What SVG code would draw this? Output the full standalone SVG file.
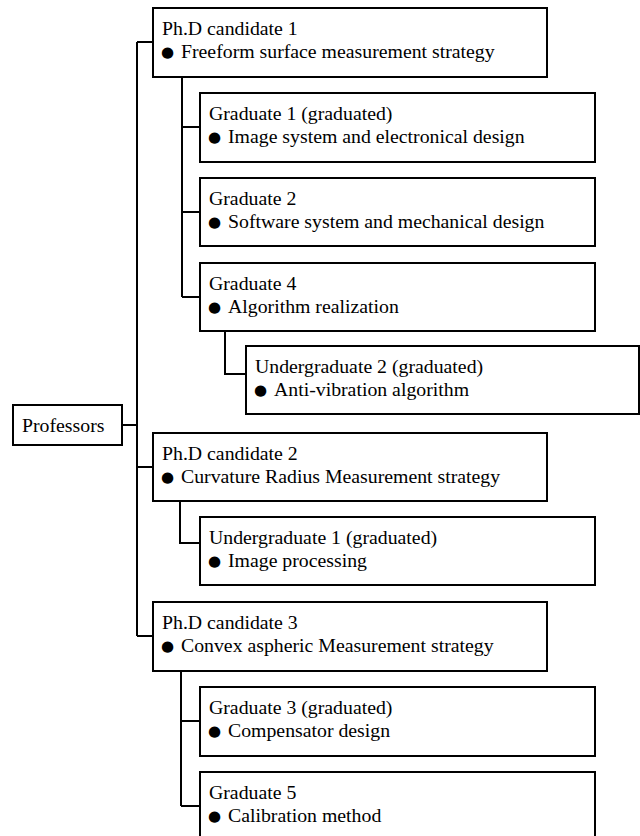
<svg xmlns="http://www.w3.org/2000/svg" width="640" height="836" viewBox="0 0 640 836">
<style>
.box{fill:#fff;stroke:#000;stroke-width:2}
.con{fill:none;stroke:#000;stroke-width:2}
text{font-family:"Liberation Serif","Times New Roman",serif;font-size:19.8px;fill:#000}
.b{font-family:"DejaVu Sans",sans-serif;font-size:15px}
</style>
<rect width="640" height="836" fill="#fff"/>
<g id="connectors">
<path class="con" d="M122 425H137M137 42V636M137 42H153M137 467H153M137 636H153"/>
<path class="con" d="M182 77V297M182 127H200M182 212H200M182 297H200"/>
<path class="con" d="M225 331V374H246"/>
<path class="con" d="M180 501V543H200"/>
<path class="con" d="M181 671V806M181 721H200M181 806H200"/>
</g>
<g id="phd1"><rect class="box" x="153" y="8" width="394" height="69"/>
<text x="162" y="35">Ph.D candidate 1</text>
<text y="58"><tspan class="b" x="161" y="57">●</tspan><tspan x="181" y="58">Freeform surface measurement strategy</tspan></text></g>
<g id="grad1"><rect class="box" x="200" y="93" width="395" height="69"/>
<text x="209" y="120">Graduate 1 (graduated)</text>
<text><tspan class="b" x="208" y="142">●</tspan><tspan x="228" y="143">Image system and electronical design</tspan></text></g>
<g id="grad2"><rect class="box" x="200" y="178" width="395" height="68"/>
<text x="209" y="205">Graduate 2</text>
<text><tspan class="b" x="208" y="227">●</tspan><tspan x="228" y="228">Software system and mechanical design</tspan></text></g>
<g id="grad4"><rect class="box" x="200" y="263" width="395" height="68"/>
<text x="209" y="290">Graduate 4</text>
<text><tspan class="b" x="208" y="312">●</tspan><tspan x="228" y="313">Algorithm realization</tspan></text></g>
<g id="ugrad2"><rect class="box" x="246" y="346" width="393" height="68"/>
<text x="255" y="373">Undergraduate 2 (graduated)</text>
<text><tspan class="b" x="254" y="395">●</tspan><tspan x="274" y="396">Anti-vibration algorithm</tspan></text></g>
<g id="professors"><rect class="box" x="13" y="405" width="109" height="40"/>
<text x="22" y="432">Professors</text></g>
<g id="phd2"><rect class="box" x="153" y="433" width="394" height="68"/>
<text x="162" y="460">Ph.D candidate 2</text>
<text><tspan class="b" x="161" y="482">●</tspan><tspan x="181" y="483">Curvature Radius Measurement strategy</tspan></text></g>
<g id="ugrad1"><rect class="box" x="200" y="517" width="395" height="68"/>
<text x="209" y="544">Undergraduate 1 (graduated)</text>
<text><tspan class="b" x="208" y="566">●</tspan><tspan x="228" y="567">Image processing</tspan></text></g>
<g id="phd3"><rect class="box" x="153" y="602" width="394" height="69"/>
<text x="162" y="629">Ph.D candidate 3</text>
<text><tspan class="b" x="161" y="651">●</tspan><tspan x="181" y="652">Convex aspheric Measurement strategy</tspan></text></g>
<g id="grad3"><rect class="box" x="200" y="687" width="395" height="69"/>
<text x="209" y="714">Graduate 3 (graduated)</text>
<text><tspan class="b" x="208" y="736">●</tspan><tspan x="228" y="737">Compensator design</tspan></text></g>
<g id="grad5"><rect class="box" x="200" y="772" width="395" height="69"/>
<text x="209" y="799">Graduate 5</text>
<text><tspan class="b" x="208" y="821">●</tspan><tspan x="228" y="822">Calibration method</tspan></text></g>
</svg>
